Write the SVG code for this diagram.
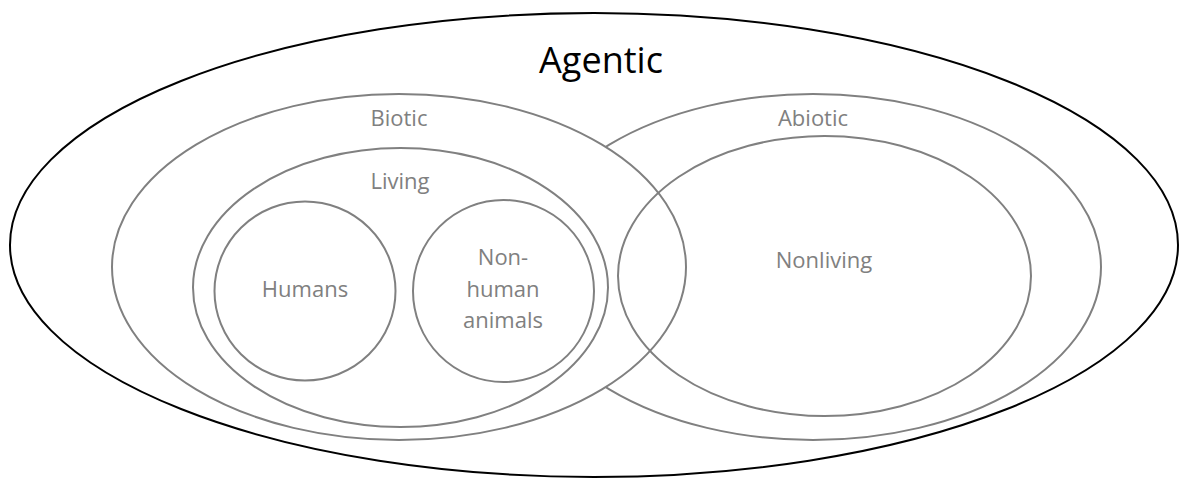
<svg xmlns="http://www.w3.org/2000/svg" width="1182" height="479" viewBox="0 0 1182 479">
<style>
.set{fill:#ffffff;stroke:#808080;stroke-width:2}
.open{fill:none;stroke:#808080;stroke-width:2}
.lbl{font-family:"Open Sans","Liberation Sans",sans-serif;font-size:22px;fill:#808080;text-anchor:middle}
.top{font-family:"Open Sans","Liberation Sans",sans-serif;font-size:36px;fill:#000000;text-anchor:middle}
</style>
<rect width="1182" height="479" fill="#ffffff"/>
<g id="agentic">
<ellipse cx="594" cy="245" rx="584" ry="232" fill="#ffffff" stroke="#000000" stroke-width="2"/>
<text class="top" x="601" y="73">Agentic</text>
</g>
<g id="abiotic">
<ellipse class="set" cx="813" cy="267" rx="288" ry="173"/>
<text class="lbl" x="813" y="126">Abiotic</text>
</g>
<g id="biotic">
<ellipse class="set" cx="399" cy="267" rx="287" ry="173"/>
<text class="lbl" x="399" y="126">Biotic</text>
</g>
<g id="living">
<ellipse class="open" cx="400.5" cy="287.5" rx="207.5" ry="139.5"/>
<text class="lbl" x="400" y="189">Living</text>
</g>
<g id="humans">
<ellipse class="open" cx="305" cy="291" rx="90.5" ry="89.5"/>
<text class="lbl" x="305" y="297">Humans</text>
</g>
<g id="nonhuman-animals">
<ellipse class="open" cx="503.5" cy="291" rx="90.5" ry="91"/>
<text class="lbl" x="503" y="265">Non-</text>
<text class="lbl" x="503" y="297">human</text>
<text class="lbl" x="503" y="328">animals</text>
</g>
<g id="nonliving">
<ellipse class="open" cx="824.5" cy="276" rx="206.5" ry="140"/>
<text class="lbl" x="824" y="268">Nonliving</text>
</g>
<g id="connectors"></g>
</svg>
